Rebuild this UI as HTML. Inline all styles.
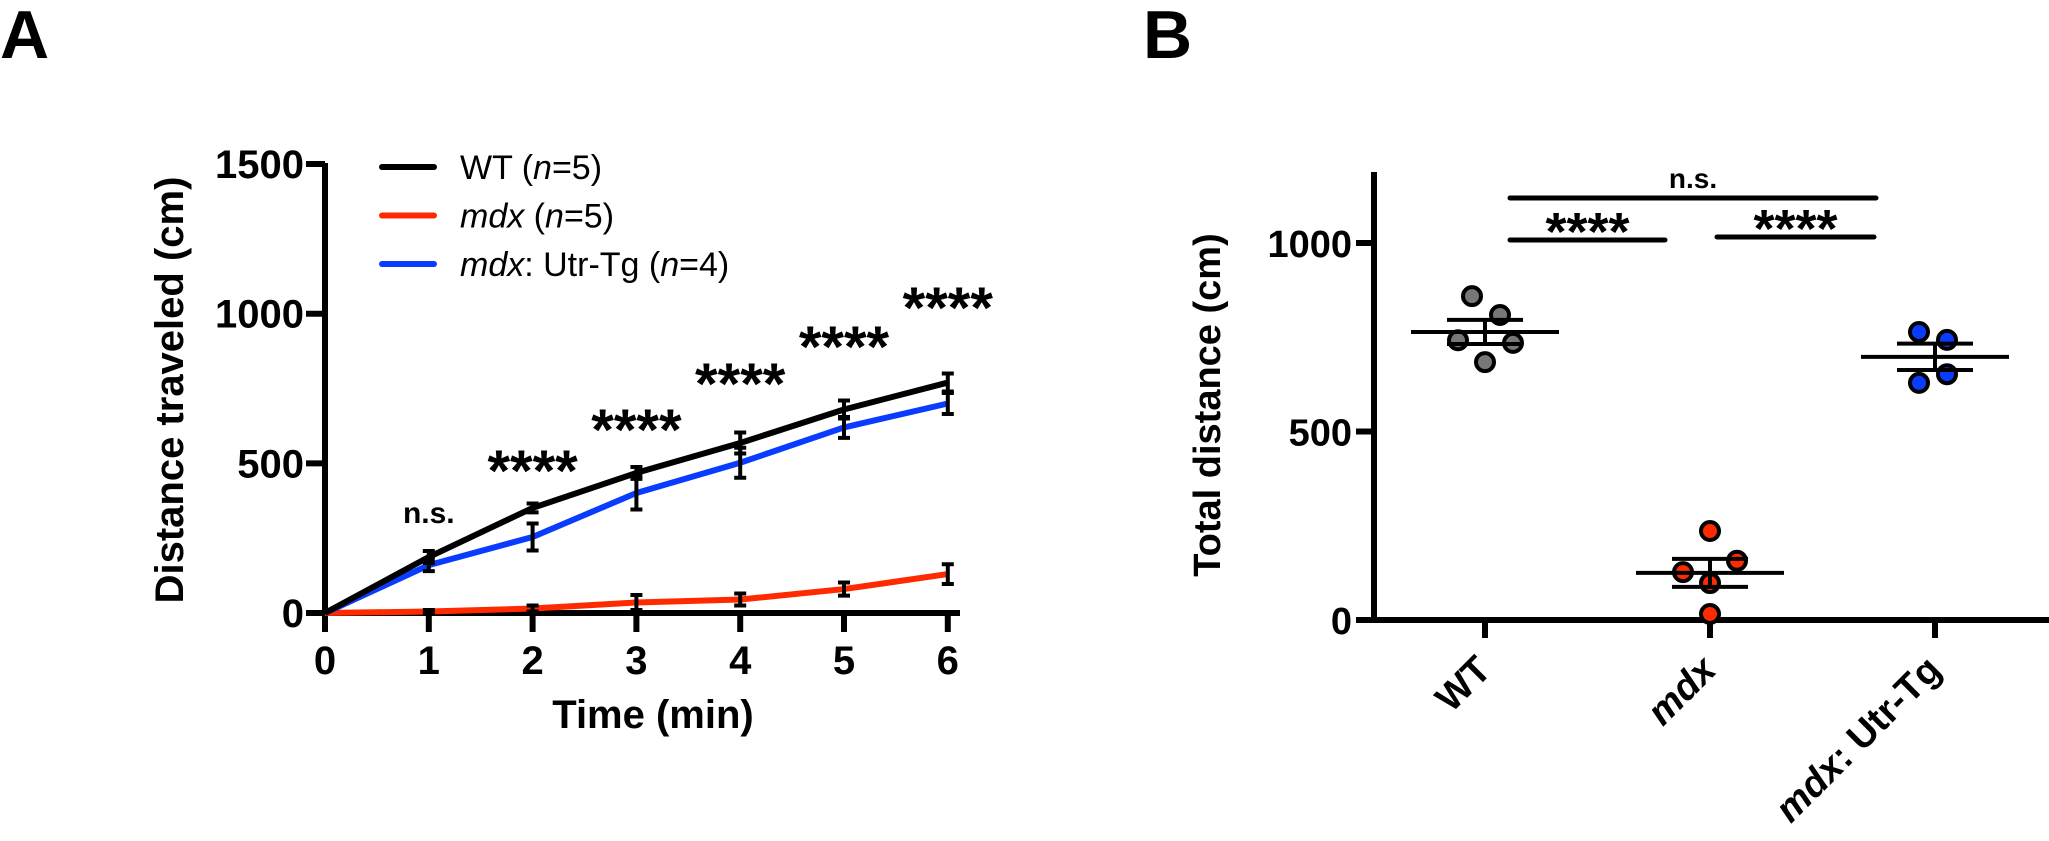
<!DOCTYPE html>
<html><head><meta charset="utf-8"><style>
html,body{margin:0;padding:0;background:#fff;}
svg{display:block;font-family:"Liberation Sans",sans-serif;}
</style></head><body>
<svg id="fig" width="2049" height="841" viewBox="0 0 2049 841" xmlns="http://www.w3.org/2000/svg">
<text x="0" y="58" font-size="68" font-weight="bold">A</text>
<text x="1143" y="58" font-size="68" font-weight="bold">B</text>
<g id="pa"></g>
<g id="pb"></g>
</svg>
<script>
// ---- Panel A data ----
const timeCats = [0,1,2,3,4,5,6];
const wtMean  = [0,187,351,468,568,680,770];
const wtErr   = [0,20,15,20,35,30,30];
const mdxMean = [0,5,15,35,45,80,130];
const mdxErr  = [0,5,10,25,20,22,33];
const utrMean = [0,160,254,401,502,620,700];
const utrErr  = [0,20,45,55,50,35,35];
const yTicksA = [0,500,1000,1500];
const sigLabelsA = ["n.s.","****","****","****","****","****"];
const sigValsA = [300,408,544,698,822,953];
// ---- Panel B data ----
const groupsB = ["WT","mdx","Utr"];
const wtPts  = [859,809,742,735,684];
const mdxPts = [236,157,127,98,16];
const utrPts = [764,743,652,629];
const meansB = [764,125,698];
const semsB  = [32,37,35];
const yTicksB = [0,500,1000];

const NS="http://www.w3.org/2000/svg";
function mk(parent,tag,attrs){const e=document.createElementNS(NS,tag);for(const k in attrs)e.setAttribute(k,attrs[k]);parent.appendChild(e);return e;}

// Panel A
const pa=document.getElementById('pa');
const xA=t=>325+t*103.8;
const yA=v=>613-v*0.2993;
let ax=mk(pa,'line',{x1:325,y1:163,x2:325,y2:616,stroke:'#000','stroke-width':6});


ax=mk(pa,'line',{x1:322,y1:613,x2:960,y2:613,stroke:'#000','stroke-width':6});


yTicksA.forEach(v=>{
  const l=mk(pa,'line',{x1:306,y1:yA(v),x2:325,y2:yA(v),stroke:'#000','stroke-width':6});
  
  
  const t=mk(pa,'text',{x:304,y:yA(v)+14,'text-anchor':'end','font-size':40,'font-weight':'bold'});
  t.textContent=v;
  
  
});
timeCats.forEach(c=>{
  const l=mk(pa,'line',{x1:xA(c),y1:613,x2:xA(c),y2:632,stroke:'#000','stroke-width':6});
  
  
  const t=mk(pa,'text',{x:xA(c),y:674,'text-anchor':'middle','font-size':40,'font-weight':'bold'});
  t.textContent=c;
  
  
});
let tt=mk(pa,'text',{x:653,y:728,'text-anchor':'middle','font-size':40,'font-weight':'bold'});
tt.textContent='Time (min)';


tt=mk(pa,'text',{x:0,y:0,'text-anchor':'middle','font-size':40,'font-weight':'bold',transform:'translate(183,390) rotate(-90)'});
tt.textContent='Distance traveled (cm)';



function series(means,errs,color,name){
  const pts=timeCats.map((c,i)=>xA(c)+','+yA(means[i])).join(' ');
  const pl=mk(pa,'polyline',{points:pts,fill:'none',stroke:color,'stroke-width':6,'stroke-linejoin':'round'});
  
  
  timeCats.forEach((c,i)=>{
    if(i===0)return;
    const x=xA(c),y1=yA(means[i]-errs[i]),y2=yA(means[i]+errs[i]);
    const g=mk(pa,'path',{d:`M${x},${y1}V${y2}M${x-6},${y1}H${x+6}M${x-6},${y2}H${x+6}`,stroke:'#000','stroke-width':4,fill:'none'});
    
    
  });
}
series(mdxMean,mdxErr,'#ff2a00','mdx');
series(utrMean,utrErr,'#0a3cff','utr-tg');
series(wtMean,wtErr,'#000','wt');
sigLabelsA.forEach((s,i)=>{
  const t=mk(pa,'text',{x:xA(timeCats[i+1]),y:yA(sigValsA[i]),'text-anchor':'middle','font-size':s==='n.s.'?30:58,'font-weight':'bold'});
  t.textContent=s;
  
  
});
// legend
const leg=[["#000",'<tspan>WT (</tspan><tspan font-style="italic">n</tspan><tspan>=5)</tspan>','legend-wt'],
["#ff2a00",'<tspan font-style="italic">mdx</tspan><tspan> (</tspan><tspan font-style="italic">n</tspan><tspan>=5)</tspan>','legend-mdx'],
["#0a3cff",'<tspan font-style="italic">mdx</tspan><tspan>: Utr-Tg (</tspan><tspan font-style="italic">n</tspan><tspan>=4)</tspan>','legend-utr-tg']];
leg.forEach((L,i)=>{
  const y=167+i*48.5;
  const g=mk(pa,'g',{});
  
  
  mk(g,'line',{x1:382,y1:y,x2:434,y2:y,stroke:L[0],'stroke-width':6,'stroke-linecap':'round'});
  const t=mk(g,'text',{x:460,y:y+12,'font-size':34});
  t.innerHTML=L[1];
});

// Panel B
const pb=document.getElementById('pb');
const catX=[1485,1710,1935];
const yB=v=>620-v*0.377;
ax=mk(pb,'line',{x1:1374,y1:172,x2:1374,y2:623,stroke:'#000','stroke-width':6});


ax=mk(pb,'line',{x1:1371,y1:620,x2:2049,y2:620,stroke:'#000','stroke-width':6});


yTicksB.forEach(v=>{
  const l=mk(pb,'line',{x1:1356,y1:yB(v),x2:1374,y2:yB(v),stroke:'#000','stroke-width':6});
  
  
  const t=mk(pb,'text',{x:1352,y:yB(v)+14,'text-anchor':'end','font-size':38,'font-weight':'bold'});
  t.textContent=v;
  
  
});
tt=mk(pb,'text',{x:0,y:0,'text-anchor':'middle','font-size':38,'font-weight':'bold',transform:'translate(1220,405) rotate(-90)'});
tt.textContent='Total distance (cm)';


const catLabels=['<tspan>WT</tspan>','<tspan font-style="italic">mdx</tspan>','<tspan font-style="italic">mdx</tspan><tspan>: Utr-Tg</tspan>'];
groupsB.forEach((g,i)=>{
  const l=mk(pb,'line',{x1:catX[i],y1:620,x2:catX[i],y2:638,stroke:'#000','stroke-width':6});
  
  
  const t=mk(pb,'text',{x:0,y:0,'text-anchor':'end','font-size':38,'font-weight':'bold',transform:`translate(${catX[i]+8},672) rotate(-45)`});
  t.innerHTML=catLabels[i];
  
  
});
const ptSets=[wtPts,mdxPts,utrPts];
const fills=['#777','#ff2a00','#0a3cff'];
const jitter=[[-13,15,-27,28,0],[0,27,-27,0,0],[-16,12,12,-16]];
ptSets.forEach((pts,gi)=>{
  pts.forEach((v,k)=>{
    const c=mk(pb,'circle',{cx:catX[gi]+jitter[gi][k],cy:yB(v),r:9,fill:fills[gi],stroke:'#000','stroke-width':4});
    
    
  });
  const x=catX[gi],m=yB(meansB[gi]),a=yB(meansB[gi]+semsB[gi]),b=yB(meansB[gi]-semsB[gi]);
  const p=mk(pb,'path',{d:`M${x-74},${m}H${x+74}M${x},${a}V${b}M${x-38},${a}H${x+38}M${x-38},${b}H${x+38}`,stroke:'#000','stroke-width':4,fill:'none'});
  
  
});
const sigB=[[1510,1876,198,'n.s.'],[1510,1665,240,'****'],[1717,1874,237,'****']];
sigB.forEach(s=>{
  const l=mk(pb,'line',{x1:s[0],y1:s[2],x2:s[1],y2:s[2],stroke:'#000','stroke-width':5,'stroke-linecap':'round'});
  
  
  const ns=s[3]==='n.s.';
  const t=mk(pb,'text',{x:(s[0]+s[1])/2,y:ns?s[2]-10:s[2]+10,'text-anchor':'middle','font-size':ns?28:54,'font-weight':'bold'});
  t.textContent=s[3];
  
  
});
</script>
</body></html>
